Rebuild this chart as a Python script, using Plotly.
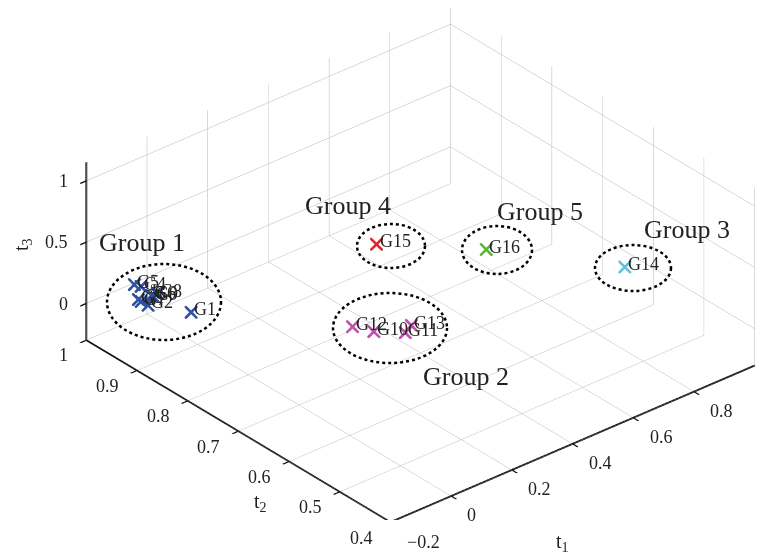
import plotly.graph_objects as go

# ---- data (scores t1, t2, t3) ----
names_g1 = ["G1", "G2", "G3", "G4", "G5", "G6", "G7", "G8", "G9"]
t1_g1 = [-0.047, -0.107, -0.107, -0.060, -0.067, -0.069, -0.108, -0.052, -0.069]
t2_g1 = [0.885, 0.934, 0.953, 0.976, 0.985, 0.950, 0.947, 0.949, 0.947]
t3_g1 = [0.05, 0.05, 0.05, 0.05, 0.05, 0.05, 0.05, 0.05, 0.05]

names_g2 = ["G10", "G11", "G12", "G13"]
t1_g2 = [0.261, 0.318, 0.236, 0.353]
t2_g2 = [0.709, 0.681, 0.736, 0.690]
t3_g2 = [0.0, 0.0, 0.0, 0.0]

names_g3 = ["G14"]
t1_g3 = [0.851]
t2_g3 = [0.567]
t3_g3 = [0.25]

names_g4 = ["G15"]
t1_g4 = [0.330]
t2_g4 = [0.745]
t3_g4 = [0.55]

names_g5 = ["G16"]
t1_g5 = [0.563]
t2_g5 = [0.668]
t3_g5 = [0.45]

t1_ticks = [-0.2, 0, 0.2, 0.4, 0.6, 0.8]
t2_ticks = [0.4, 0.5, 0.6, 0.7, 0.8, 0.9, 1.0]
t3_ticks = [0, 0.5, 1]
t1_range = [-0.2, 1.0]
t2_range = [0.4, 1.0]
t3_range = [-0.3, 1.15]

group_labels = ["Group 1", "Group 2", "Group 3", "Group 4", "Group 5"]

FONT = "Liberation Serif"
TXT = "#222222"
W, H = 767, 554
OFF = 8  # page body margin of the html page

groups = [
    (names_g1, t1_g1, t2_g1, t3_g1, "#2f4fa3"),
    (names_g2, t1_g2, t2_g2, t3_g2, "#c04fae"),
    (names_g3, t1_g3, t2_g3, t3_g3, "#5ec3e0"),
    (names_g4, t1_g4, t2_g4, t3_g4, "#e8202a"),
    (names_g5, t1_g5, t2_g5, t3_g5, "#5bb33a"),
]

fig = go.Figure()
scene_ann = []
for names, a, b, c, col in groups:
    fig.add_trace(go.Scatter3d(
        x=a, y=b, z=c, mode="markers",
        marker=dict(symbol="x", size=3, color=col, line=dict(width=0)),
        showlegend=False, hoverinfo="skip"))
    for n, xa, yb, zc in zip(names, a, b, c):
        scene_ann.append(dict(x=xa, y=yb, z=zc, text=n, showarrow=False,
                              xanchor="left", yanchor="middle", xshift=1, yshift=3,
                              font=dict(family=FONT, size=18, color=TXT)))

# tick labels placed on the axis edges (horizontal text like the original)
eps = 1e-6
for t in t1_ticks:
    scene_ann.append(dict(x=t, y=t2_range[0] + eps, z=t3_range[0] + eps,
                          text=f"{t:g}".replace("-", "\u2212"), showarrow=False,
                          xanchor="left", yanchor="middle", xshift=14, yshift=-19,
                          font=dict(family=FONT, size=18, color=TXT)))
for t in t2_ticks:
    scene_ann.append(dict(x=t1_range[0] + eps, y=t, z=t3_range[0] + eps,
                          text=f"{t:g}", showarrow=False,
                          xanchor="right", yanchor="middle", xshift=-16, yshift=-15,
                          font=dict(family=FONT, size=18, color=TXT)))
for t in t3_ticks:
    scene_ann.append(dict(x=t1_range[0] + eps, y=t2_range[1] - eps, z=t,
                          text=f"{t:g}", showarrow=False,
                          xanchor="right", yanchor="middle", xshift=-16, yshift=0,
                          font=dict(family=FONT, size=18, color=TXT)))

def ax(rng, ticks):
    return dict(range=rng, tickvals=ticks, title=dict(text=""),
                showticklabels=False,
                showgrid=True, gridcolor="rgba(0,0,0,0.3)", gridwidth=1,
                showline=True, linecolor="#111", linewidth=4,
                ticks="outside", tickcolor="#111", ticklen=8, tickwidth=3,
                showbackground=False, zeroline=False, showspikes=False,
                autorange=False)

d = (-0.557, -0.657, 0.507)
k = 2.1
s = 1.865
fig.update_layout(
    width=W, height=H, paper_bgcolor="white",
    margin=dict(l=0, r=0, t=0, b=0),
    scene=dict(
        domain=dict(x=[0.086, 0.99], y=[0.075, 1.0]),
        xaxis=ax(t1_range, t1_ticks),
        yaxis=ax(t2_range, t2_ticks),
        zaxis=ax(t3_range, t3_ticks),
        aspectmode="manual", aspectratio=dict(x=1 * s, y=0.985 * s, z=0.432 * s),
        camera=dict(projection=dict(type="orthographic"),
                    eye=dict(x=d[0] * k, y=d[1] * k, z=d[2] * k),
                    up=dict(x=0, y=0, z=1), center=dict(x=0, y=0, z=0)),
        annotations=scene_ann,
    ),
)

def px(x):
    return (x - OFF) / W

def py(y):
    return 1 - (y - OFF) / H

# dotted ellipses around the groups (screen annotations)
ellipses = [(164, 302, 57, 38), (390, 328, 57, 35), (633, 268, 38, 23),
            (391, 246, 34, 22), (497, 250, 35, 24)]
for cx, cy, rx, ry in ellipses:
    fig.add_shape(type="circle", xref="paper", yref="paper",
                  x0=px(cx - rx), x1=px(cx + rx), y0=py(cy + ry), y1=py(cy - ry),
                  line=dict(color="black", width=2.5, dash="dot"))

label_pos = [(142, 242), (466, 376), (687, 229), (348, 206), (540, 211)]
for txt, (lx, ly) in zip(group_labels, label_pos):
    fig.add_annotation(x=px(lx), y=py(ly), xref="paper", yref="paper",
                       xanchor="center", yanchor="middle",
                       text=txt, showarrow=False,
                       font=dict(family=FONT, size=26, color=TXT))

fig.add_annotation(x=px(562), y=py(542), xref="paper", yref="paper",
                   xanchor="center", yanchor="middle",
                   text="t<sub>1</sub>", showarrow=False,
                   font=dict(family=FONT, size=20, color=TXT))
fig.add_annotation(x=px(260), y=py(502), xref="paper", yref="paper",
                   xanchor="center", yanchor="middle",
                   text="t<sub>2</sub>", showarrow=False,
                   font=dict(family=FONT, size=20, color=TXT))
fig.add_annotation(x=px(22), y=py(244), xref="paper", yref="paper",
                   xanchor="center", yanchor="middle",
                   text="t<sub>3</sub>", showarrow=False, textangle=-90,
                   font=dict(family=FONT, size=20, color=TXT))

fig.write_html("out.html")
